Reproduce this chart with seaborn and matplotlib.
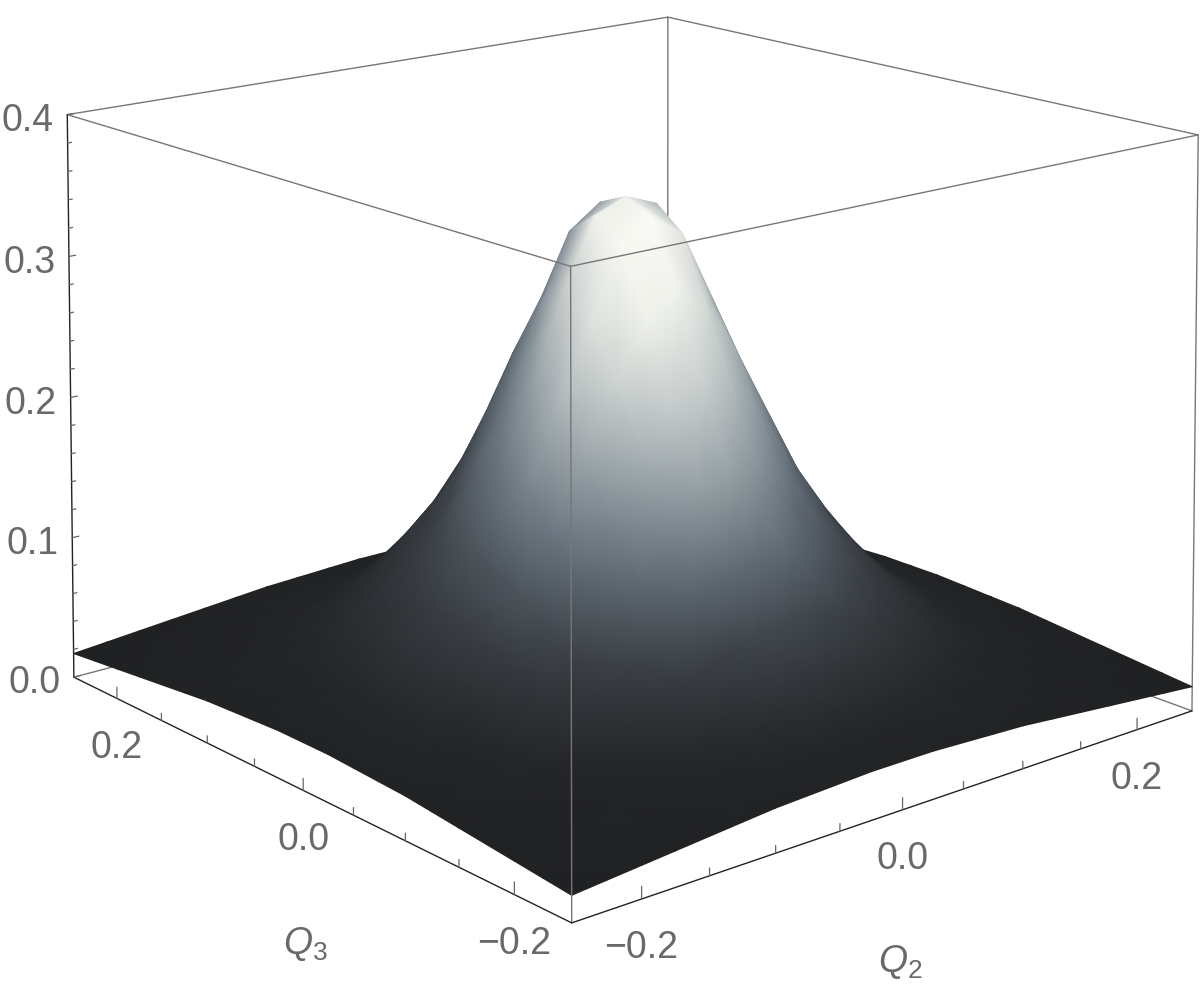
#!/usr/bin/env python3

import numpy as np
import seaborn as sns
import matplotlib
matplotlib.use("Agg")
import matplotlib.pyplot as plt

# surface heights on the +/+ quadrant, Q step 0.025
q_quadrant = [0.0, 0.025, 0.05, 0.075, 0.1, 0.125, 0.15, 0.175, 0.2, 0.225, 0.25]
z_quadrant = [
    [.350, .341, .295, .235, .180, .130, .096, .068, .050, .040, .032],
    [.341, .325, .275, .222, .175, .126, .093, .066, .049, .040, .032],
    [.295, .275, .240, .195, .150, .115, .085, .062, .047, .039, .031],
    [.235, .222, .195, .158, .127, .100, .075, .057, .044, .038, .030],
    [.180, .175, .150, .127, .106, .083, .065, .051, .042, .036, .029],
    [.130, .126, .115, .100, .083, .068, .056, .045, .039, .033, .027],
    [.096, .093, .085, .075, .065, .056, .047, .041, .035, .030, .025],
    [.068, .066, .062, .057, .051, .045, .041, .036, .032, .027, .023],
    [.050, .049, .047, .044, .042, .039, .035, .032, .028, .024, .021],
    [.040, .040, .039, .038, .036, .033, .030, .027, .024, .021, .019],
    [.032, .032, .031, .030, .029, .027, .025, .023, .021, .019, .017],
]
q_major = [-0.2, 0.0, 0.2]
q_labels = ["\u22120.2", "0.0", "0.2"]
q_minor = [-0.15, -0.1, -0.05, 0.05, 0.1, 0.15]
z_major = [0.0, 0.1, 0.2, 0.3, 0.4]
z_labels = ["0.0", "0.1", "0.2", "0.3", "0.4"]
z_minor = [0.02, 0.04, 0.06, 0.08, 0.12, 0.14, 0.16, 0.18, 0.22, 0.24, 0.26, 0.28,
           0.32, 0.34, 0.36, 0.38]
surface_colors = ["#1c1d1f", "#232527", "#3c4147", "#6d7983", "#b0b9bb", "#eceee8", "#fbfbf6"]

Q = 0.25
ZMAX = 0.4

# camera: box corners matched to where they sit in the image
box_world = [(-Q, -Q, 0), (-Q, -Q, ZMAX), (-Q, Q, 0), (-Q, Q, ZMAX),
             (Q, -Q, 0), (Q, -Q, ZMAX), (Q, Q, ZMAX)]
box_image = [(571.5, 923), (571, 266), (74, 677), (67, 115),
             (1192, 711), (1198, 135), (668, 17)]


def camera():
    rows = []
    for (x, y, z), (u, v) in zip(box_world, box_image):
        rows.append([x, y, z, 1, 0, 0, 0, 0, -u * x, -u * y, -u * z, -u])
        rows.append([0, 0, 0, 0, x, y, z, 1, -v * x, -v * y, -v * z, -v])
    return np.linalg.svd(np.array(rows, dtype=float))[2][-1].reshape(3, 4)


P = camera()


def project(x, y, z):
    x, y, z = np.broadcast_arrays(x, y, z)
    w = P[2, 0] * x + P[2, 1] * y + P[2, 2] * z + P[2, 3]
    u = (P[0, 0] * x + P[0, 1] * y + P[0, 2] * z + P[0, 3]) / w
    v = (P[1, 0] * x + P[1, 1] * y + P[1, 2] * z + P[1, 3]) / w
    return u, v


def line3d(ax, a, b, **kw):
    u, v = project(*np.array([a, b], dtype=float).T)
    ax.plot(u, v, solid_capstyle="round", **kw)


sns.set_theme(style="white")
plt.rcParams["font.family"] = ["Liberation Sans", "DejaVu Sans"]
plt.rcParams["mathtext.fontset"] = "custom"
plt.rcParams["mathtext.rm"] = "Liberation Sans"
plt.rcParams["mathtext.it"] = "Liberation Sans:italic"

fig = plt.figure(figsize=(12, 10), dpi=100)
ax = fig.add_axes([0, 0, 1, 1])
ax.set_xlim(0, 1200)
ax.set_ylim(1000, 0)
ax.axis("off")

# whole surface from the quadrant, back corner first so the front paints over
quad = np.array(z_quadrant)
half = np.array(q_quadrant)
q = np.concatenate([half[:0:-1], -half])
Z = np.vstack([np.hstack([quad[:0:-1, :0:-1], quad[:0:-1, :]]),
               np.hstack([quad[:, :0:-1], quad])])
Q2, Q3 = np.meshgrid(q, q)

# shading: height map dimmed where the surface turns away from the light
dz3, dz2 = np.gradient(Z, q, q)
norm = np.sqrt(dz2 ** 2 + dz3 ** 2 + 1)
lit = np.clip((0.3 * dz2 + 0.75 * dz3 + 0.6) / norm, 0, 1)
C = (Z / Z.max()) ** 0.8 * (0.58 + 0.42 * lit)

U, V = project(Q2, Q3, Z)
cmap = sns.blend_palette(surface_colors, as_cmap=True)
ax.pcolormesh(U, V, C, shading="gouraud", cmap=cmap, vmin=0, vmax=C.max(), zorder=2)

# box edges behind the surface
back = dict(color="#777777", lw=1.0, zorder=1)
line3d(ax, (Q, Q, 0), (Q, Q, ZMAX), **back)
line3d(ax, (-Q, Q, 0), (Q, Q, 0), **back)
line3d(ax, (Q, -Q, 0), (Q, Q, 0), **back)
line3d(ax, (-Q, Q, ZMAX), (Q, Q, ZMAX), **back)
line3d(ax, (Q, -Q, ZMAX), (Q, Q, ZMAX), **back)
line3d(ax, (Q, -Q, 0), (Q, -Q, ZMAX), **back)

# box edges in front of it
front = dict(color="#777777", lw=1.0, zorder=3)
line3d(ax, (-Q, -Q, 0), (-Q, -Q, ZMAX), **front)
line3d(ax, (-Q, -Q, ZMAX), (-Q, Q, ZMAX), **front)
line3d(ax, (-Q, -Q, ZMAX), (Q, -Q, ZMAX), **front)

# axes
axis_kw = dict(color="#222222", lw=1.0, zorder=3)
line3d(ax, (-Q, -Q, 0), (-Q, Q, 0), **axis_kw)
line3d(ax, (-Q, -Q, 0), (Q, -Q, 0), **axis_kw)
line3d(ax, (-Q, Q, 0), (-Q, Q, ZMAX), **axis_kw)

tick_kw = dict(color="#666666", lw=0.9, zorder=3)
for t in q_major + q_minor:
    h = 0.008 if t in q_major else 0.005
    line3d(ax, (-Q, t, 0), (-Q, t, h), **tick_kw)
    line3d(ax, (t, -Q, 0), (t, -Q, h), **tick_kw)
for t in z_major + z_minor:
    d = 0.005 if t in z_major else 0.003
    line3d(ax, (-Q, Q, t), (-Q + d, Q, t), **tick_kw)

label_kw = dict(color="#696969", fontsize=27, ha="center", va="center",
                textcoords="offset points", zorder=4)
for t, s in zip(q_major, q_labels):
    ax.annotate(s, project(-Q, t, 0), xytext=(0, -35.5), **label_kw)
    ax.annotate(s, project(t, -Q, 0), xytext=(0, -35.5), **label_kw)
for t, s in zip(z_major, z_labels):
    ax.annotate(s, project(-Q, Q, t), xytext=(-28.5, -4.5), **label_kw)

ax.text(305, 944, "$Q_3$", color="#696969", fontsize=27, ha="center", va="center")
ax.text(900, 962, "$Q_2$", color="#696969", fontsize=27, ha="center", va="center")

fig.savefig("out.png", dpi=100)
